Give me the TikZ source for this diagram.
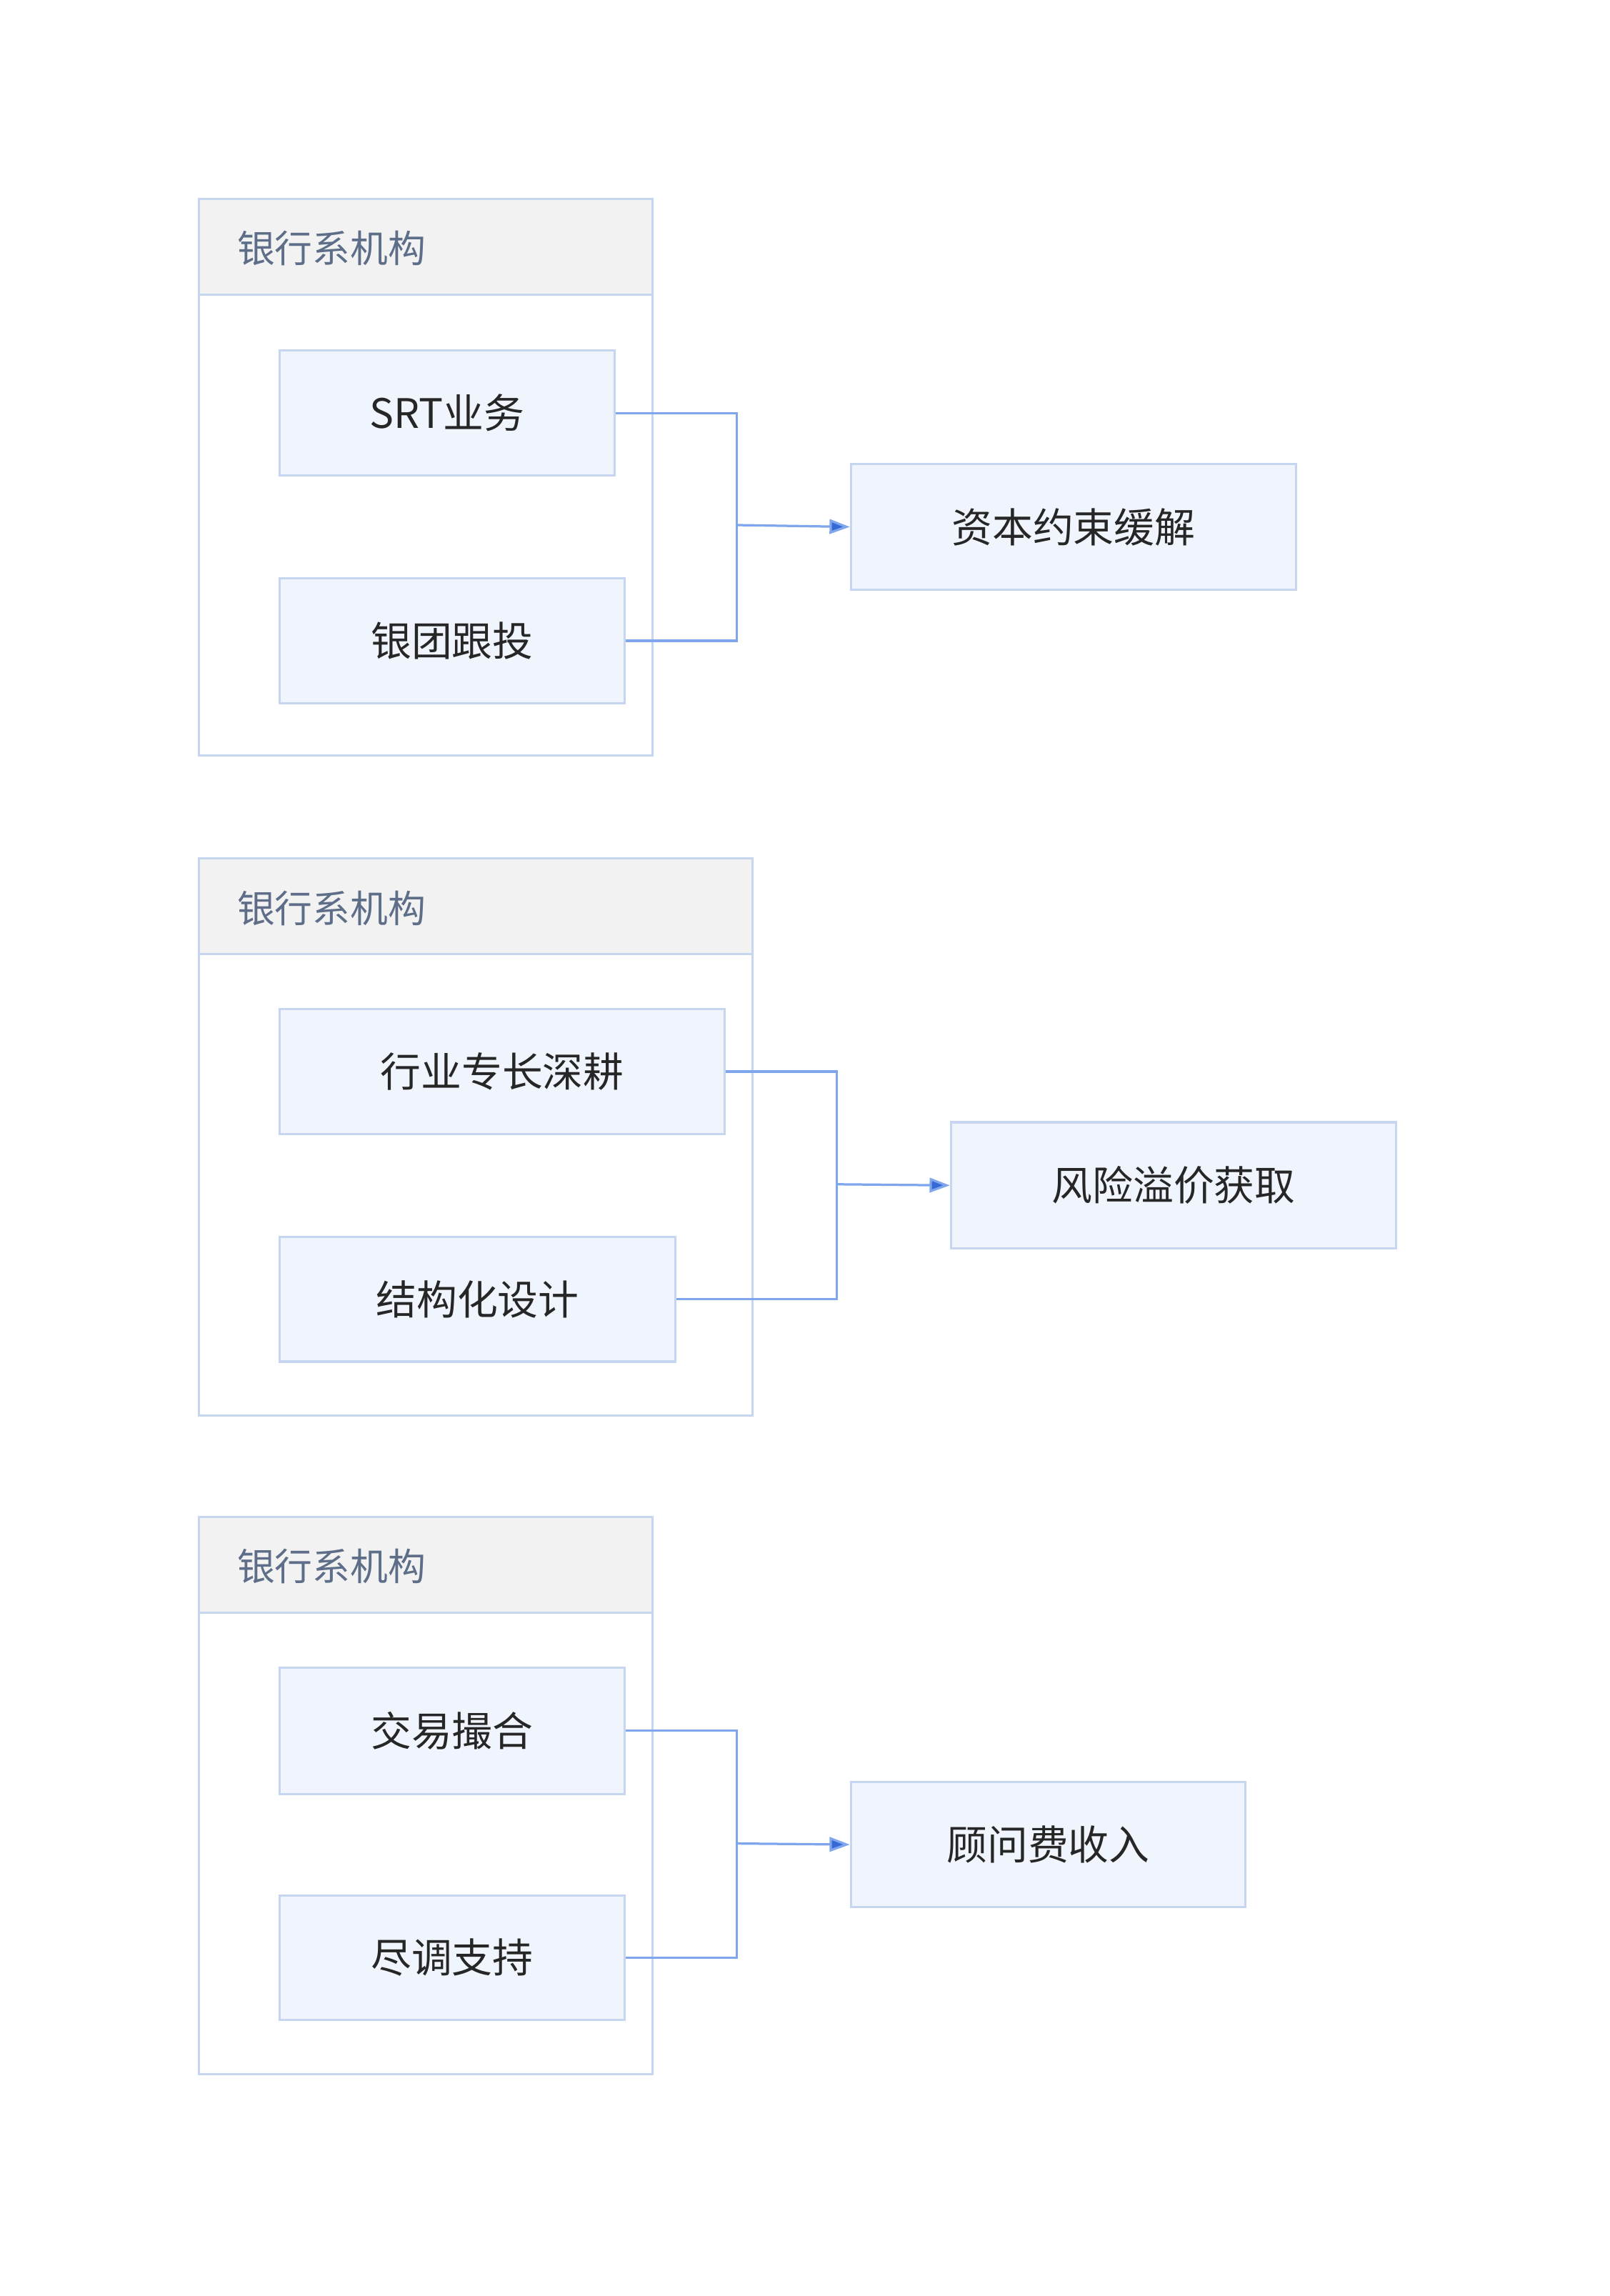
\documentclass[tikz,border=0pt]{standalone}
\usepackage{fontspec}
\setmainfont{Noto Sans CJK SC}
\usetikzlibrary{arrows.meta}
\definecolor{boxfill}{HTML}{F0F5FD}
\definecolor{boxline}{HTML}{C6D6F1}
\definecolor{headfill}{HTML}{F2F2F2}
\definecolor{headtext}{HTML}{5E6E88}
\definecolor{linkline}{HTML}{7FA6EC}
\definecolor{tipcol}{HTML}{3569D6}
\tikzset{
	itembox/.style={draw=boxline, line width=1.5pt, fill=boxfill, anchor=north west,
		inner sep=0pt, font=\fontsize{28}{32}\selectfont, text=black!85},
	groupbox/.style={draw=boxline, line width=1.5pt},
	headbox/.style={draw=boxline, line width=1.5pt, fill=headfill},
	headlabel/.style={anchor=west, font=\fontsize{26}{30}\selectfont, text=headtext},
	link/.style={draw=linkline, line width=1.6pt},
	linkarrow/.style={link, -{Triangle[length=14pt,width=10pt,fill=tipcol]}}
}
\newcommand{\groupframe}[3]{% top y, right x, name
	\draw [groupbox] (137,#1) rectangle (#2,#1+384);
	\draw [headbox] (137,#1) rectangle (#2,#1+66);
	\node [headlabel] (#3) at (160,#1+34) {银行系机构};
}
\begin{document}
\begin{tikzpicture}[x=1pt,y=-1pt]
	\useasboundingbox [fill=white] (0,0) rectangle (1110,1583);
	% Group 1
	\groupframe{137}{450}{head1}
	\node [itembox, minimum width=231pt, minimum height=86pt] (srt) at (192,241) {SRT业务};
	\node [itembox, minimum width=238pt, minimum height=86pt] (follow) at (192,398) {银团跟投};
	\node [itembox, minimum width=307pt, minimum height=87pt] (capital) at (586,319) {资本约束缓解};
	\coordinate (j1) at (508,362);
	\draw [link] (srt.east) -| (j1) |- (follow.east);
	\draw [linkarrow] (j1) -- (capital.west);
	% Group 2
	\groupframe{592}{519}{head2}
	\node [itembox, minimum width=307pt, minimum height=86pt] (expert) at (192,695) {行业专长深耕};
	\node [itembox, minimum width=273pt, minimum height=86pt] (design) at (192,852) {结构化设计};
	\node [itembox, minimum width=307pt, minimum height=87pt] (premium) at (655,773) {风险溢价获取};
	\coordinate (j2) at (577,816.5);
	\draw [link] (expert.east) -| (j2) |- (design.east);
	\draw [linkarrow] (j2) -- (premium.west);
	% Group 3
	\groupframe{1046}{450}{head3}
	\node [itembox, minimum width=238pt, minimum height=87pt] (match) at (192,1149) {交易撮合};
	\node [itembox, minimum width=238pt, minimum height=86pt] (diligence) at (192,1306) {尽调支持};
	\node [itembox, minimum width=272pt, minimum height=86pt] (fee) at (586,1228) {顾问费收入};
	\coordinate (j3) at (508,1271);
	\draw [link] (match.east) -| (j3) |- (diligence.east);
	\draw [linkarrow] (j3) -- (fee.west);
\end{tikzpicture}
\end{document}
